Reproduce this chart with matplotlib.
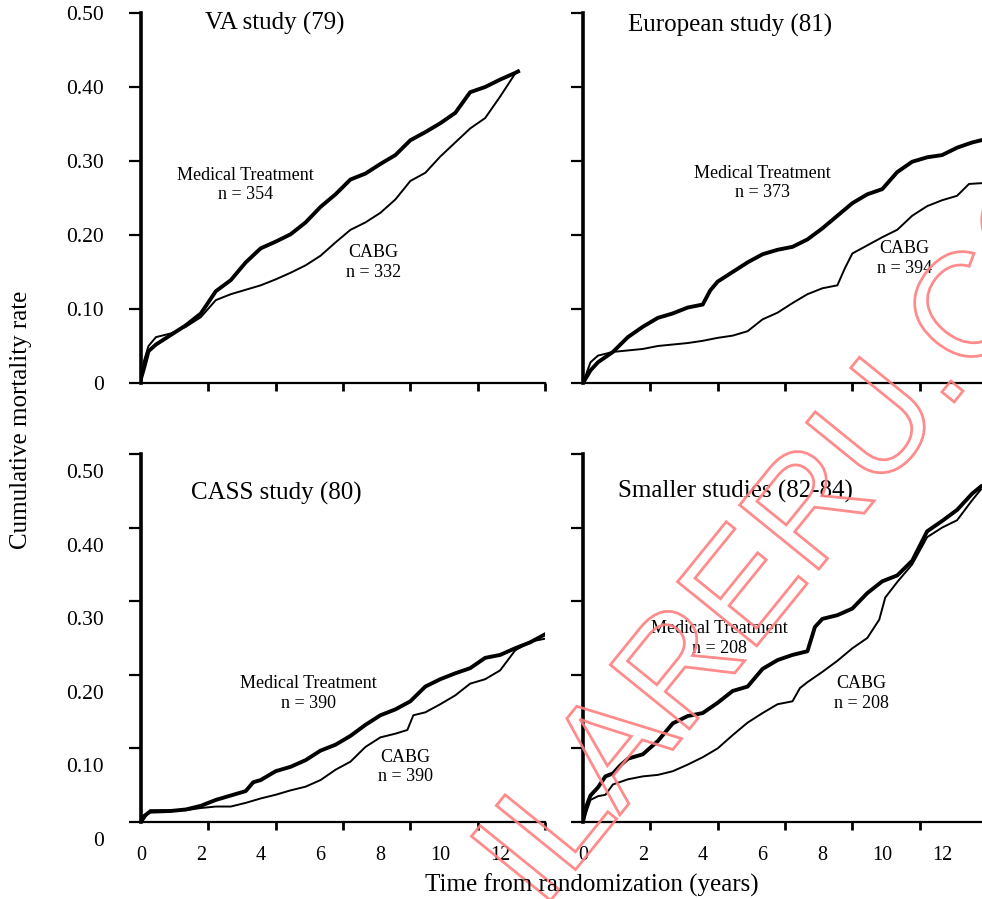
import numpy as np
import matplotlib.pyplot as plt
from matplotlib.textpath import TextPath
from matplotlib.patches import PathPatch
from matplotlib.font_manager import FontProperties
from matplotlib.transforms import Affine2D, ScaledTranslation

plt.rcParams['font.family'] = 'Liberation Serif'

# ---- data (years, cumulative mortality) ----
va_med_t = [0, 0.1, 0.25, 0.5, 1.0, 1.5, 2.0, 2.5, 3.0, 3.5, 4.0, 4.5, 5.0, 5.5, 6.0,
            6.5, 7.0, 7.5, 8.0, 8.5, 9.0, 9.5, 10.0, 10.5, 11.0, 11.5, 12.0, 12.5, 12.6]
va_med = [0.006, 0.02, 0.043, 0.052, 0.065, 0.078, 0.094, 0.124, 0.139, 0.163, 0.182, 0.191,
          0.201, 0.217, 0.238, 0.255, 0.275, 0.283, 0.296, 0.308, 0.328, 0.339, 0.351, 0.365,
          0.393, 0.400, 0.410, 0.419, 0.421]
va_cabg_t = [0, 0.1, 0.25, 0.5, 1.0, 1.5, 2.0, 2.5, 3.0, 3.5, 4.0, 4.5, 5.0, 5.5, 6.0,
             6.5, 7.0, 7.5, 8.0, 8.5, 9.0, 9.5, 10.0, 10.5, 11.0, 11.5, 12.0, 12.5, 12.6]
va_cabg = [0.0, 0.03, 0.05, 0.062, 0.067, 0.076, 0.089, 0.112, 0.12, 0.126, 0.132, 0.14,
           0.149, 0.159, 0.172, 0.19, 0.207, 0.217, 0.23, 0.248, 0.273, 0.284, 0.306, 0.325,
           0.344, 0.358, 0.387, 0.418, 0.422]

eu_med_t = [0, 0.25, 0.5, 1.0, 1.5, 2.0, 2.5, 3.0, 3.5, 4.0, 4.25, 4.5, 5.0, 5.5, 6.0, 6.5,
            7.0, 7.5, 8.0, 8.5, 9.0, 9.5, 10.0, 10.5, 11.0, 11.5, 12.0, 12.5, 13.0, 13.3]
eu_med = [0.0, 0.017, 0.028, 0.042, 0.062, 0.076, 0.088, 0.094, 0.102, 0.106, 0.125, 0.137,
          0.15, 0.163, 0.174, 0.18, 0.184, 0.194, 0.209, 0.226, 0.243, 0.255, 0.262, 0.285,
          0.299, 0.305, 0.308, 0.318, 0.325, 0.328]
eu_cabg_t = [0, 0.25, 0.5, 1.0, 1.5, 2.0, 2.5, 3.0, 3.5, 4.0, 4.5, 5.0, 5.5, 6.0, 6.5, 7.0,
             7.5, 8.0, 8.5, 8.75, 9.0, 9.5, 10.0, 10.5, 11.0, 11.5, 12.0, 12.5, 12.9, 13.3]
eu_cabg = [0.0, 0.028, 0.037, 0.042, 0.044, 0.046, 0.05, 0.052, 0.054, 0.057, 0.061, 0.064,
           0.07, 0.086, 0.095, 0.108, 0.12, 0.128, 0.132, 0.155, 0.175, 0.186, 0.197, 0.207,
           0.226, 0.239, 0.247, 0.253, 0.269, 0.27]

cass_med_t = [0, 0.1, 0.3, 1.0, 1.5, 2.0, 2.5, 3.0, 3.5, 3.75, 4.0, 4.5, 5.0, 5.5, 6.0, 6.5,
              7.0, 7.5, 8.0, 8.5, 9.0, 9.5, 10.0, 10.5, 11.0, 11.5, 12.0, 12.5, 13.0, 13.5]
cass_med = [0.0, 0.008, 0.014, 0.015, 0.017, 0.022, 0.03, 0.036, 0.042, 0.054, 0.057, 0.069,
            0.075, 0.084, 0.097, 0.105, 0.117, 0.132, 0.145, 0.153, 0.164, 0.184, 0.194,
            0.202, 0.209, 0.223, 0.227, 0.236, 0.244, 0.255]
cass_cabg_t = [0, 0.1, 0.3, 1.0, 1.5, 2.0, 2.5, 3.0, 3.5, 4.0, 4.5, 5.0, 5.5, 6.0, 6.5, 7.0,
               7.5, 8.0, 8.5, 8.9, 9.1, 9.5, 10.0, 10.5, 11.0, 11.5, 12.0, 12.5, 13.0, 13.5]
cass_cabg = [0.0, 0.004, 0.016, 0.016, 0.016, 0.019, 0.021, 0.021, 0.026, 0.032, 0.037,
             0.043, 0.048, 0.057, 0.071, 0.082, 0.102, 0.115, 0.12, 0.125, 0.145, 0.149,
             0.16, 0.172, 0.188, 0.194, 0.206, 0.233, 0.245, 0.249]

sm_med_t = [0, 0.1, 0.25, 0.5, 0.75, 1.0, 1.25, 1.5, 2.0, 2.5, 3.0, 3.5, 4.0, 4.5, 5.0, 5.5,
            6.0, 6.5, 7.0, 7.5, 7.75, 8.0, 8.5, 9.0, 9.5, 10.0, 10.5, 11.0, 11.5, 12.0,
            12.5, 13.0, 13.3]
sm_med = [0.0, 0.02, 0.036, 0.047, 0.062, 0.066, 0.077, 0.086, 0.092, 0.11, 0.134, 0.144,
          0.148, 0.162, 0.178, 0.184, 0.208, 0.22, 0.227, 0.232, 0.265, 0.276, 0.281, 0.29,
          0.311, 0.327, 0.335, 0.355, 0.395, 0.409, 0.424, 0.446, 0.456]
sm_cabg_t = [0, 0.1, 0.25, 0.5, 0.75, 1.0, 1.5, 2.0, 2.5, 3.0, 3.5, 4.0, 4.5, 5.0, 5.5, 6.0,
             6.5, 7.0, 7.25, 7.5, 8.0, 8.5, 9.0, 9.5, 9.9, 10.1, 10.5, 11.0, 11.5, 12.0,
             12.5, 13.0, 13.3]
sm_cabg = [0.0, 0.012, 0.03, 0.035, 0.037, 0.051, 0.058, 0.062, 0.064, 0.069, 0.078, 0.088,
           0.1, 0.118, 0.135, 0.148, 0.16, 0.164, 0.182, 0.19, 0.204, 0.219, 0.236, 0.25,
           0.275, 0.305, 0.326, 0.35, 0.387, 0.4, 0.41, 0.437, 0.452]

titles = ["VA study (79)", "European study (81)", "CASS study (80)", "Smaller studies (82-84)"]
n_med = [354, 373, 390, 208]
n_cabg = [332, 394, 390, 208]
x_ticks = [0, 2, 4, 6, 8, 10, 12]
y_ticks = [0, 0.1, 0.2, 0.3, 0.4, 0.5]
y_ticklabels = ["0", "0.10", "0.20", "0.30", "0.40", "0.50"]

curves = [(va_med_t, va_med, va_cabg_t, va_cabg),
          (eu_med_t, eu_med, eu_cabg_t, eu_cabg),
          (cass_med_t, cass_med, cass_cabg_t, cass_cabg),
          (sm_med_t, sm_med, sm_cabg_t, sm_cabg)]

# ---- layout (pixels) ----
W, H = 982, 899
fig = plt.figure(figsize=(W / 100, H / 100), dpi=100)

boxes = [(141, 13, 545, 383), (583, 13, 987, 383),
         (141, 454, 545, 822), (583, 454, 987, 822)]
title_pos = [(0.331, 0.972), (0.365, 0.966), (0.336, 0.894), (0.378, 0.897)]
med_pos = [(0.259, 0.535), (0.445, 0.540), (0.415, 0.350), (0.338, 0.499)]
cabg_pos = [(0.576, 0.325), (0.795, 0.337), (0.654, 0.150), (0.688, 0.350)]

for i, (l, t, r, b) in enumerate(boxes):
    ax = fig.add_axes([l / W, 1 - b / H, (r - l) / W, (b - t) / H])
    mt, mv, ct, cv = curves[i]
    ax.plot(ct, cv, color='black', lw=1.4)
    ax.plot(mt, mv, color='black', lw=2.8)

    ax.set_xlim(0, 13.5)
    ax.set_ylim(0, 0.5)
    for s in ['top', 'right']:
        ax.spines[s].set_visible(False)
    ax.spines['left'].set_linewidth(2.6)
    ax.spines['bottom'].set_linewidth(1.6)

    ax.set_xticks(x_ticks)
    ax.set_xticks(np.linspace(0, 13.5, 7), minor=True)
    ax.tick_params(axis='x', which='major', length=0, pad=17, labelsize=14.5)
    ax.tick_params(axis='x', which='minor', length=6, width=2, direction='out')
    ax.set_yticks(y_ticks)
    ax.set_yticklabels(y_ticklabels)
    ax.tick_params(axis='y', length=9, width=1.6, pad=18, labelsize=15.5)
    if i < 2:
        ax.tick_params(axis='x', labelbottom=False)
    if i % 2 == 1:
        ax.tick_params(axis='y', labelleft=False)
    if i == 2:
        off = ScaledTranslation(0, -17 / 100, fig.dpi_scale_trans)
        for lab in ax.get_yticklabels():
            lab.set_transform(lab.get_transform() + off)

    ax.text(*title_pos[i], titles[i], transform=ax.transAxes, ha='center', va='center',
            fontsize=18)
    ax.text(med_pos[i][0], med_pos[i][1], "Medical Treatment\nn = %d" % n_med[i],
            transform=ax.transAxes, ha='center', va='center', fontsize=13,
            linespacing=1.2)
    ax.text(cabg_pos[i][0], cabg_pos[i][1], "CABG\nn = %d" % n_cabg[i],
            transform=ax.transAxes, ha='center', va='center', fontsize=13,
            linespacing=1.2)
    ax.patch.set_alpha(0)

fig.text(592 / W, 1 - 885 / H, "Time from randomization (years)", ha='center',
         va='center', fontsize=18)
fig.text(21 / W, 1 - 420 / H, "Cumulative mortality rate", ha='center', va='center',
         rotation=90, fontsize=18)

# watermark
tp = TextPath((0, 0), "ILARERU.COM", size=148,
              prop=FontProperties(family='Liberation Sans'))
tr = Affine2D().scale(1 / 100).rotate_deg(51).translate(5.42, -0.12) + fig.dpi_scale_trans
fig.add_artist(PathPatch(tp, transform=tr, fc='none', ec='#ff8080', lw=2, alpha=0.9))

fig.savefig("out.png", dpi=100)
